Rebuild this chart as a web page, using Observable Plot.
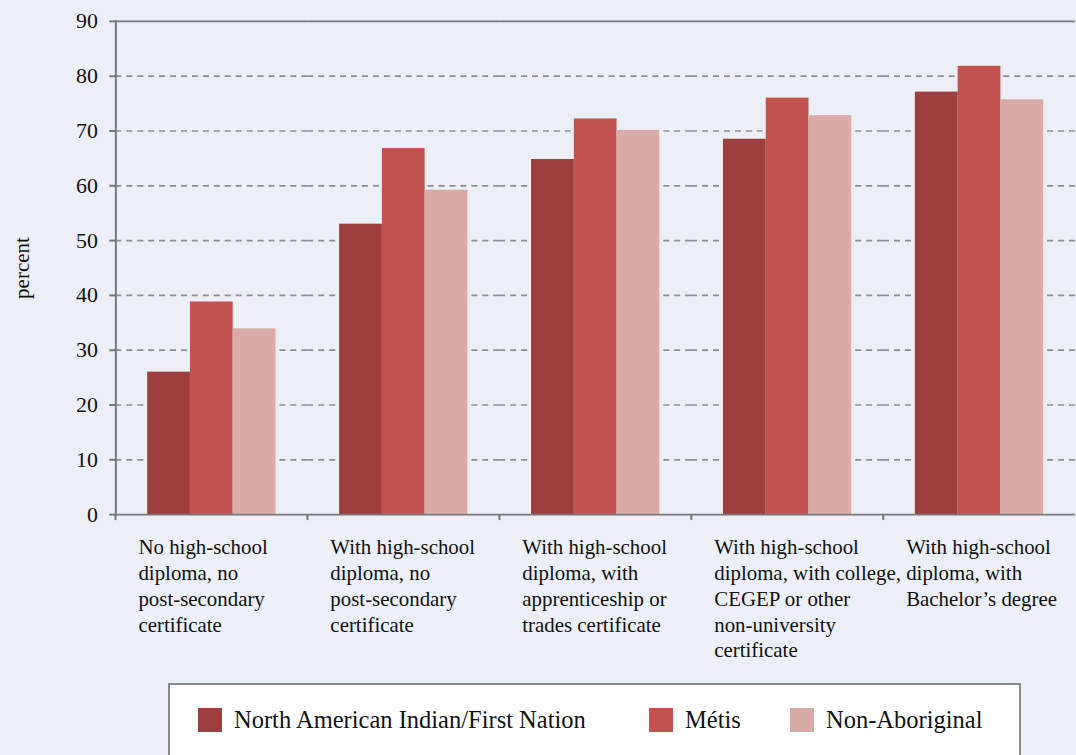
<!DOCTYPE html>
<html>
<head>
<meta charset="utf-8">
<script src="https://cdn.jsdelivr.net/npm/d3@7"></script>
<script src="https://cdn.jsdelivr.net/npm/@observablehq/plot@0.6"></script>
<style>
  html, body { margin: 0; padding: 0; background: #eceff6; overflow: hidden; width: 1076px; height: 755px; }
  #wrap { position: relative; width: 1076px; height: 755px; font-family: "Liberation Serif", serif; color: #111; }
  #chart { position: absolute; left: 0; top: 0; }
  #ylabel { position: absolute; left: 22px; top: 268px; transform: translate(-50%, -50%) rotate(-90deg); font-size: 21px; white-space: nowrap; }
  #legend { position: absolute; left: 168px; top: 683px; width: 853px; height: 100px; border: 2px solid #8a8a8a; background: #fff; box-sizing: border-box; }
  .item { position: absolute; top: 23px; height: 24px; display: flex; align-items: center; font-size: 24.5px; white-space: nowrap; }
  .sw { width: 24px; height: 24px; margin-right: 12px; display: inline-block; flex: none; }
</style>
</head>
<body>
<div id="wrap">
  <div id="chart"></div>
  <div id="ylabel">percent</div>
  <div id="legend"></div>
</div>
<script>
const categories = [
  "No high-school diploma, no post-secondary certificate",
  "With high-school diploma, no post-secondary certificate",
  "With high-school diploma, with apprenticeship or trades certificate",
  "With high-school diploma, with college, CEGEP or other non-university certificate",
  "With high-school diploma, with Bachelor’s degree"
];
const tickLabels = [
  "No high-school\ndiploma, no\npost-secondary\ncertificate",
  "With high-school\ndiploma, no\npost-secondary\ncertificate",
  "With high-school\ndiploma, with\napprenticeship or\ntrades certificate",
  "With high-school\ndiploma, with college,\nCEGEP or other\nnon-university\ncertificate",
  "With high-school\ndiploma, with\nBachelor’s degree"
];
const series = ["North American Indian/First Nation", "Métis", "Non-Aboriginal"];
const firstNation = [26.0, 53.0, 64.8, 68.5, 77.1];
const metis = [38.8, 66.8, 72.2, 76.0, 81.8];
const nonAboriginal = [33.9, 59.2, 70.1, 72.8, 75.7];
const colors = ["#9c3f3e", "#c4524f", "#d9aba9"];
const yTicks = [0, 10, 20, 30, 40, 50, 60, 70, 80, 90];

const valuesBySeries = [firstNation, metis, nonAboriginal];
const data = categories.flatMap((c, i) => series.map((s, j) => ({cat: c, s, v: valuesBySeries[j][i]})));

const W = 1082, ML = 114;
const step = (W - ML) / categories.length;
const FONT = '"Liberation Serif", serif';

const chart = Plot.plot({
  width: W, height: 680,
  marginTop: 21, marginBottom: 163, marginLeft: ML, marginRight: 0,
  style: {background: "transparent", fontFamily: FONT, fontSize: "21px", color: "#111"},
  fx: {domain: categories, padding: 0, label: null, axis: null},
  x: {domain: series, paddingInner: 0, paddingOuter: 0.72, axis: null},
  y: {domain: [0, 90], label: null, axis: null},
  color: {domain: series, range: colors},
  marks: [
    Plot.gridY(yTicks.slice(1, -1), {stroke: "#8f8f8f", strokeOpacity: 1, strokeWidth: 1.7, strokeDasharray: "6,5"}),
    Plot.barY(data, {fx: "cat", x: "s", y: "v", fill: "s", inset: 0}),
    Plot.ruleY([0, 90], {stroke: "#777", strokeWidth: 2}),
    Plot.axisY(yTicks, {tickSize: 6, tickPadding: 12, stroke: "#777", strokeWidth: 2, fill: "#111", label: null, fontSize: 22}),
    Plot.frame({anchor: "left", facetAnchor: "left", stroke: "#777", strokeWidth: 2}),
    Plot.axisFx({anchor: "bottom", tickSize: 6, stroke: "#777", strokeWidth: 2, dx: -step / 2, tickFormat: () => "", label: null}),
    Plot.axisFx({anchor: "bottom", tickSize: 0, tickPadding: 21, textAnchor: "start", lineAnchor: "top", lineHeight: 1.24, dx: -step / 2 + 23, fill: "#111", fontSize: 21, tickFormat: d => tickLabels[categories.indexOf(d)], label: null})
  ]
});
document.getElementById("chart").appendChild(chart);

const legendLefts = [28, 479, 620];
const legend = document.getElementById("legend");
series.forEach((s, i) => {
  const it = document.createElement("div");
  it.className = "item";
  it.style.left = legendLefts[i] + "px";
  const sw = document.createElement("span");
  sw.className = "sw";
  sw.style.background = colors[i];
  it.appendChild(sw);
  it.appendChild(document.createTextNode(s));
  legend.appendChild(it);
});
</script>
</body>
</html>
